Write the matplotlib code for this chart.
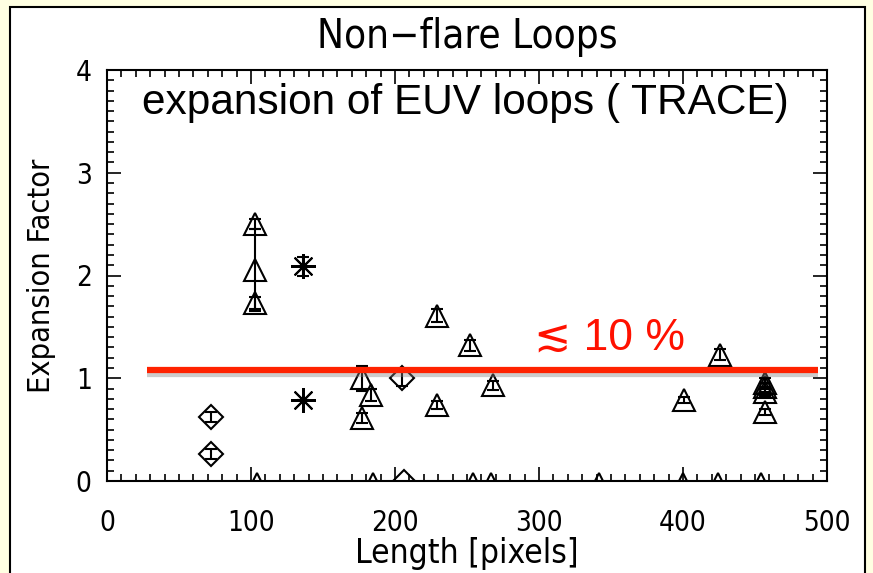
import matplotlib
matplotlib.use("Agg")
import matplotlib.pyplot as plt
import matplotlib.patheffects as pe
from matplotlib.patches import Rectangle
from matplotlib.ticker import MultipleLocator

# ---- data ----
tri_x = [103, 103, 103, 177, 177, 183, 229, 229, 252, 268, 401, 426, 457, 457, 457, 457]
tri_y = [2.50, 2.05, 1.73, 1.00, 0.61, 0.84, 1.61, 0.74, 1.32, 0.93, 0.79, 1.23, 0.95, 0.91, 0.87, 0.67]
tri_err = [0.05, 0.40, 0.06, 0.12, 0.05, 0.06, 0.06, 0.04, 0.05, 0.04, 0.03, 0.05, 0.05, 0.04, 0.04, 0.03]

dia_x = [72, 72, 205]
dia_y = [0.62, 0.26, 1.00]
dia_err = [0.05, 0.05, 0.08]

ast_x = [136, 136]
ast_y = [2.09, 0.79]
ast_err = [0.09, 0.0]

zero_tri_x = [104, 185, 254, 267, 342, 400, 424, 454]
zero_dia_x = [206]

line_x = [28, 494]
line_y = [1.08, 1.08]

title = "Non\u2212flare Loops"
xlabel = "Length [pixels]"
ylabel = "Expansion Factor"
annot = "expansion of EUV loops ( TRACE)"
pct = "\u2272 10 %"

# ---- figure ----
fig = plt.figure(figsize=(8.73, 5.73), dpi=100)
fig.patch.set_facecolor("#FFFFE2")
panel = Rectangle((10/873, -0.05), (865-10)/873, 1 - 7/573 + 0.05, transform=fig.transFigure,
                  facecolor="white", edgecolor="black", linewidth=1.5, zorder=-10)
fig.patches.append(panel)

ax = fig.add_axes([107/873, 1 - 481/573, (827-107)/873, (481-70)/573])
ax.set_zorder(1)
ax.set_facecolor("white")
ax.set_xlim(0, 500)
ax.set_ylim(0, 4)

hfont = dict(family="DejaVu Sans", stretch="condensed")

mk = dict(mfc="none", mec="black", mew=1.5, color="black", ls="none",
          elinewidth=1.5, capsize=4, capthick=1.5)
ax.errorbar(tri_x, tri_y, yerr=tri_err, marker="^", ms=16, **mk)
ax.errorbar(dia_x, dia_y, yerr=dia_err, marker="D", ms=12, **mk)
ax.errorbar(ast_x, ast_y, yerr=ast_err, marker=(8, 2, 0), ms=18, **mk)
ax.plot(ast_x, ast_y, ls="none", marker="o", ms=4, color="black")

ax.plot(zero_tri_x, [0]*len(zero_tri_x), ls="none", marker="^", ms=12, mfc="none",
        mec="black", mew=1.5, clip_on=True)
ax.plot(zero_dia_x, [0]*len(zero_dia_x), ls="none", marker="D", ms=11, mfc="none",
        mec="black", mew=1.5, clip_on=True)

ax.plot(line_x, line_y, color="#FF2200", lw=4.5, solid_capstyle="butt",
        path_effects=[pe.SimpleLineShadow(offset=(0, -3), shadow_color="gray", alpha=0.4),
                      pe.Normal()], zorder=5)

ax.text(249, 3.68, annot, ha="center", va="center", fontsize=30.5,
        family=["Liberation Sans", "DejaVu Sans"], color="black")
ax.text(349, 1.39, pct, ha="center", va="center", fontsize=32,
        family=["Liberation Sans", "DejaVu Sans"], color="#FF1100")

ax.set_title(title, fontsize=29, pad=16, **hfont)
ax.set_xlabel(xlabel, fontsize=24, labelpad=0, **hfont)
ax.set_ylabel(ylabel, fontsize=22, labelpad=14, **hfont)

ax.xaxis.set_major_locator(MultipleLocator(100))
ax.xaxis.set_minor_locator(MultipleLocator(10))
ax.yaxis.set_major_locator(MultipleLocator(1))
ax.yaxis.set_minor_locator(MultipleLocator(0.1))
ax.tick_params(which="both", direction="in", top=True, right=True, width=1.2)
ax.tick_params(which="major", length=10, labelsize=20)
ax.tick_params(axis="x", which="major", pad=20)
ax.tick_params(axis="y", which="major", pad=11)
ax.tick_params(which="minor", length=5)
for lab in ax.get_xticklabels() + ax.get_yticklabels():
    lab.set_fontstretch("condensed")
for s in ax.spines.values():
    s.set_linewidth(1.5)

fig.savefig("out.png", dpi=100, facecolor=fig.get_facecolor())
